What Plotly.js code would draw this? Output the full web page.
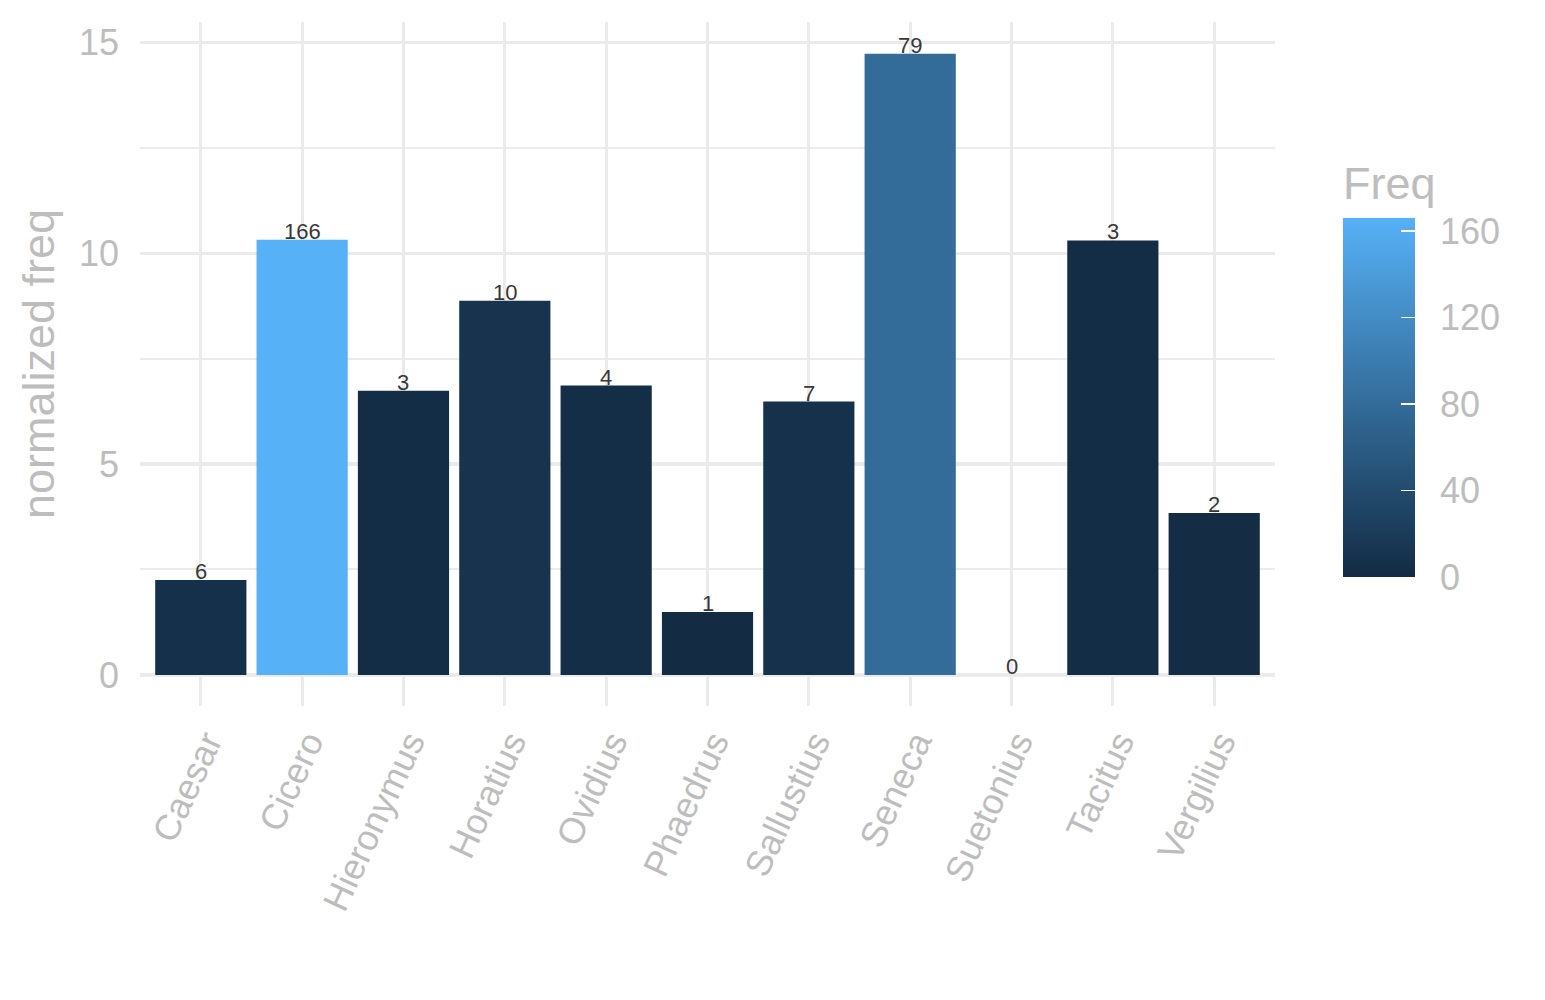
<!DOCTYPE html>
<html>
<head>
<meta charset="utf-8">
<script src="https://cdn.plot.ly/plotly-3.0.1.min.js"></script>
<style>
  html, body { margin: 0; padding: 0; background: #ffffff; }
  #chart { width: 1545px; height: 1000px; }
</style>
</head>
<body>
<div id="chart"></div>
<script>
// ---- data ----
const authors = ['Caesar', 'Cicero', 'Hieronymus', 'Horatius', 'Ovidius', 'Phaedrus',
                 'Sallustius', 'Seneca', 'Suetonius', 'Tacitus', 'Vergilius'];
const normFreq = [2.25, 10.32, 6.74, 8.87, 6.86, 1.49, 6.48, 14.73, 0, 10.30, 3.84];
const freq = [6, 166, 3, 10, 4, 1, 7, 79, 0, 3, 2];
const yTicks = [0, 5, 10, 15];
const cbTicks = [0, 40, 80, 120, 160];

// ---- styling ----
const FONT = '"Liberation Sans", Arial, Helvetica, sans-serif';
const GREY = '#BDBDBD';
const GRID = '#EBEBEB';

const barTrace = {
  type: 'bar',
  x: authors,
  y: normFreq,
  width: 0.9,
  hoverinfo: 'skip',
  marker: {
    color: freq,
    cmin: 0,
    cmax: 166,
    colorscale: [[0, '#132B43'], [1, '#56B1F7']],
    line: { width: 0 },
    showscale: true,
    colorbar: {
      x: 1.06, xanchor: 'left', xpad: 0,
      y: 0.1887, yanchor: 'bottom', ypad: 0,
      len: 415, lenmode: 'pixels',
      thickness: 72, thicknessmode: 'pixels',
      outlinewidth: 0,
      tickmode: 'array', tickvals: cbTicks, ticktext: cbTicks.map(v => '\u00a0\u2009' + v),
      ticks: 'inside', ticklen: 14, tickwidth: 1.5, tickcolor: '#ffffff',
      tickfont: { family: FONT, size: 36, color: GREY },
      title: { text: 'Freq', side: 'top', font: { family: FONT, size: 45, color: GREY } }
    }
  }
};

const labelAnnotations = authors.map((a, i) => ({
  x: a, y: normFreq[i], xref: 'x', yref: 'y',
  text: String(freq[i]), showarrow: false,
  xanchor: 'center', yanchor: 'bottom', yshift: -6,
  font: { family: FONT, size: 22, color: '#383838' }
}));

const layout = {
  width: 1545, height: 1000,
  margin: { l: 140, r: 270, t: 22, b: 294, pad: 0 },
  paper_bgcolor: '#ffffff',
  plot_bgcolor: '#ffffff',
  showlegend: false,
  font: { family: FONT, color: GREY },
  xaxis: {
    type: 'category',
    range: [-0.6, 10.6],
    showgrid: true, gridcolor: GRID, gridwidth: 3.2,
    zeroline: false, showline: false, ticks: '',
    tickangle: -65,
    tickfont: { family: FONT, size: 36, color: GREY },
    ticklabelstandoff: 7,
    ticklabelshift: 6,
    automargin: false,
    fixedrange: true
  },
  yaxis: {
    range: [-0.737, 15.48],
    tickmode: 'array', tickvals: yTicks, ticktext: yTicks.map(String),
    showgrid: true, gridcolor: GRID, gridwidth: 3.2,
    minor: { dtick: 2.5, tick0: 0, showgrid: true, gridcolor: GRID, gridwidth: 2, ticks: '' },
    zeroline: false, showline: false, ticks: '',
    tickfont: { family: FONT, size: 36, color: GREY },
    ticklabelstandoff: 20,
    title: { text: 'normalized freq', font: { family: FONT, size: 45, color: GREY }, standoff: 10 },
    automargin: false,
    fixedrange: true
  },
  annotations: labelAnnotations
};

Plotly.newPlot('chart', [barTrace], layout, { displayModeBar: false, staticPlot: true });
</script>
</body>
</html>
